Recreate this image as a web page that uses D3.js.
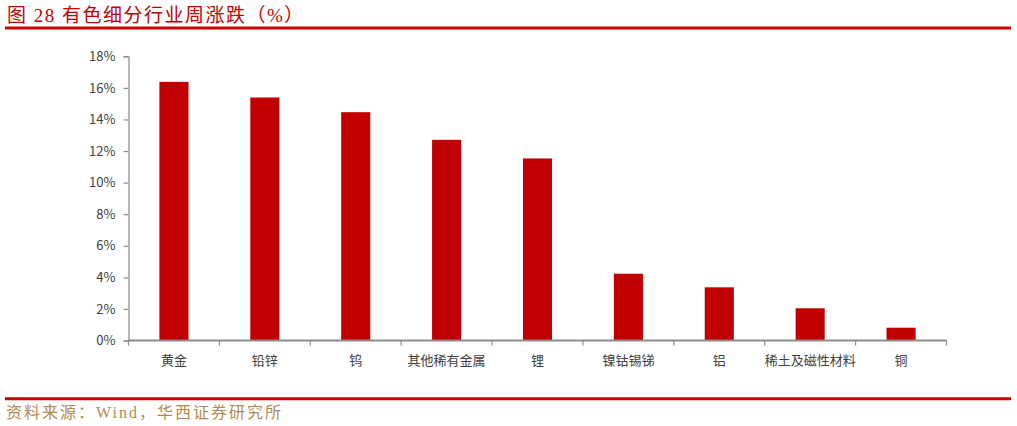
<!DOCTYPE html>
<html>
<head>
<meta charset="utf-8">
<script src="https://cdn.jsdelivr.net/npm/d3@7"></script>
<style>
  body { margin: 0; background: #fff; }
  svg { display: block; }
</style>
</head>
<body>
<div id="chart"></div>
<script>
// sector names and weekly change (%)
const sectors = ["黄金", "铅锌", "钨", "其他稀有金属", "锂", "镍钴锡锑", "铝", "稀土及磁性材料", "铜"];
const changes = [16.38, 15.39, 14.46, 12.71, 11.53, 4.23, 3.37, 2.04, 0.81];
const yTicks = [0, 2, 4, 6, 8, 10, 12, 14, 16, 18];

const width = 1017;
const height = 426;
const cjk = '"Noto Sans CJK SC", "Noto Sans", sans-serif';
const serif = '"Liberation Serif", "Noto Sans CJK SC", serif';

const svg = d3
  .select("#chart")
  .append("svg")
  .attr("width", width)
  .attr("height", height);

// title + red rule
svg
  .append("text")
  .attr("x", 7)
  .attr("y", 22)
  .attr("font-family", serif)
  .attr("font-size", "19px")
  .attr("letter-spacing", "1.5px")
  .attr("fill", "#c00000")
  .text("图 28 有色细分行业周涨跌（%）");

svg
  .append("line")
  .attr("x1", 5)
  .attr("x2", 1011)
  .attr("y1", 28)
  .attr("y2", 28)
  .attr("stroke", "#d00000")
  .attr("stroke-width", 3);

// plot area
const x = d3
  .scaleBand()
  .domain(sectors)
  .range([128.5, 946.5])
  .paddingInner(0.68)
  .paddingOuter(0.34);

const y = d3.scaleLinear().domain([0, 18]).range([340.5, 56.3]);

svg
  .append("g")
  .selectAll("rect")
  .data(sectors)
  .join("rect")
  .attr("x", (d) => x(d))
  .attr("y", (d, i) => y(changes[i]))
  .attr("width", x.bandwidth())
  .attr("height", (d, i) => y(0) - y(changes[i]))
  .attr("fill", "#c00000");

// y axis
const yAxis = svg
  .append("g")
  .attr("transform", "translate(128.5,0)")
  .call(
    d3
      .axisLeft(y)
      .tickValues(yTicks)
      .tickSize(5)
      .tickPadding(8)
      .tickFormat((d) => d + "%")
  );
yAxis.select(".domain").attr("stroke", "#8c8c8c").attr("stroke-width", 1.2);
yAxis.selectAll(".tick line").attr("stroke", "#8c8c8c").attr("stroke-width", 1.2);
yAxis
  .selectAll(".tick text")
  .attr("font-family", cjk)
  .attr("font-size", "13px")
  .attr("fill", "#404040");

// x axis: ticks sit on category boundaries
const boundaries = d3.range(sectors.length + 1).map((i) => 128.5 + i * x.step());
const xg = svg.append("g");
xg.append("line")
  .attr("x1", 128.5)
  .attr("x2", 946.5)
  .attr("y1", y(0))
  .attr("y2", y(0))
  .attr("stroke", "#8c8c8c")
  .attr("stroke-width", 1.8);
xg.selectAll("line.tk")
  .data(boundaries)
  .join("line")
  .attr("class", "tk")
  .attr("x1", (d) => d)
  .attr("x2", (d) => d)
  .attr("y1", y(0))
  .attr("y2", y(0) + 5)
  .attr("stroke", "#8c8c8c")
  .attr("stroke-width", 1.2);
xg.selectAll("text")
  .data(sectors)
  .join("text")
  .attr("x", (d) => x(d) + x.bandwidth() / 2)
  .attr("y", 365)
  .attr("text-anchor", "middle")
  .attr("font-family", cjk)
  .attr("font-size", "13px")
  .attr("fill", "#404040")
  .text((d) => d);

// source footer
svg
  .append("line")
  .attr("x1", 5)
  .attr("x2", 1011)
  .attr("y1", 398.8)
  .attr("y2", 398.8)
  .attr("stroke", "#d00000")
  .attr("stroke-width", 3);

svg
  .append("text")
  .attr("x", 6)
  .attr("y", 418)
  .attr("font-family", serif)
  .attr("font-size", "16px")
  .attr("letter-spacing", "2px")
  .attr("fill", "#b08a50")
  .text("资料来源：Wind，华西证券研究所");
</script>
</body>
</html>
